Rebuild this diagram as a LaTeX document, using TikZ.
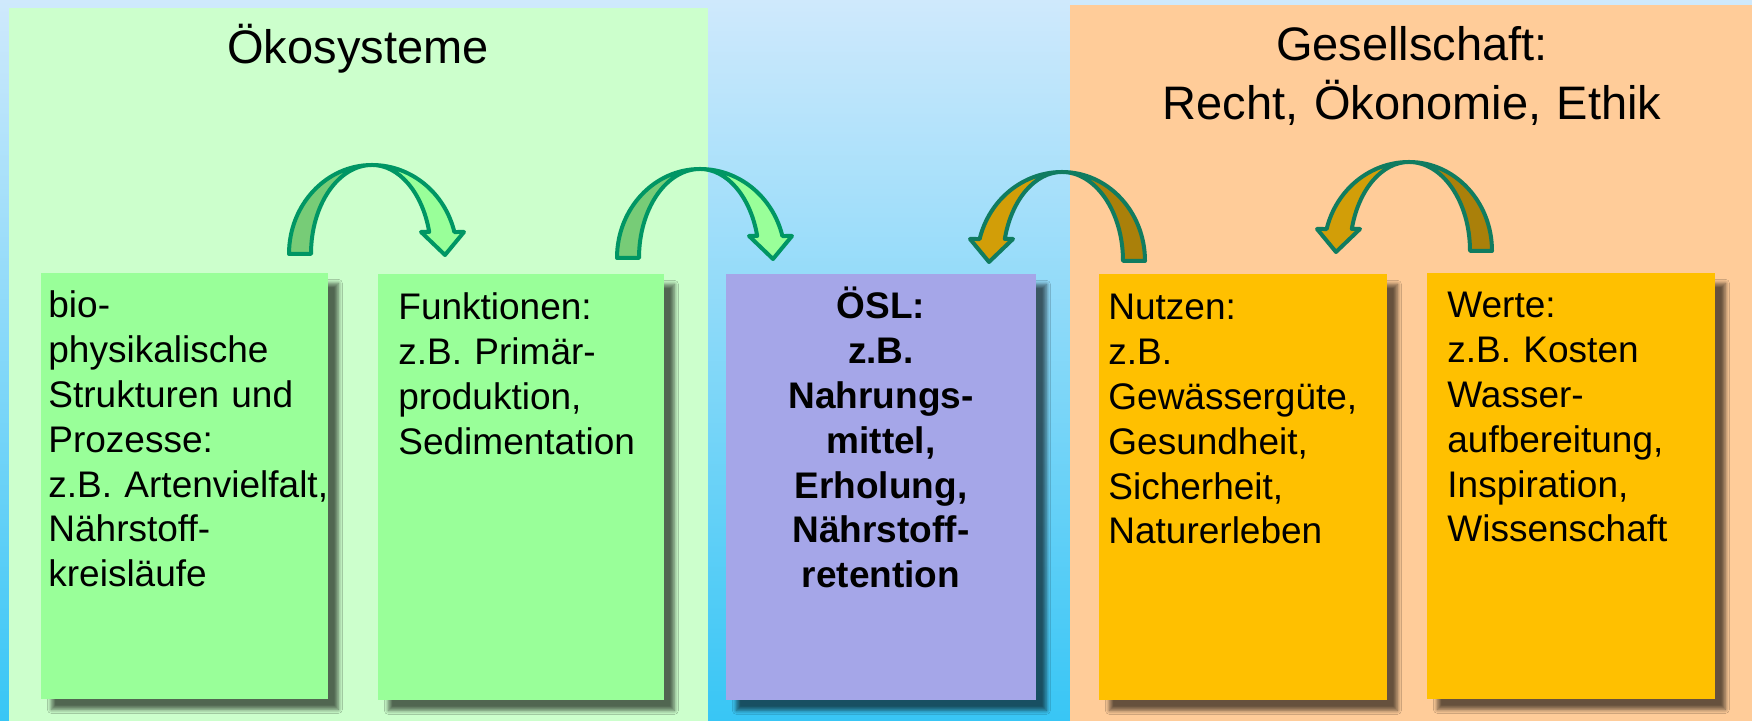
\documentclass[tikz,border=0pt]{standalone}
\usepackage{fontspec}
\setmainfont{Liberation Sans}
\usetikzlibrary{positioning,shadows.blur}

\definecolor{himmeloben}{RGB}{207,233,252}
\definecolor{himmelunten}{RGB}{56,198,245}
\definecolor{gruenflaeche}{RGB}{204,255,204}
\definecolor{orangeflaeche}{RGB}{255,204,153}
\definecolor{gruenfeld}{RGB}{153,255,153}
\definecolor{lilafeld}{RGB}{165,166,232}
\definecolor{goldfeld}{RGB}{255,192,0}
\definecolor{gruendunkel}{RGB}{119,204,119}
\definecolor{gruenrand}{RGB}{0,150,100}
\definecolor{golddunkel}{RGB}{170,128,10}
\definecolor{goldhell}{RGB}{210,158,8}
\definecolor{goldrand}{RGB}{16,124,96}

\tikzset{
  feld/.style={inner sep=0pt, minimum height=213pt, anchor=north west,
    blur shadow={shadow xshift=5pt, shadow yshift=-5pt, shadow opacity=60,
      shadow blur radius=2pt, shadow blur steps=8}},
  inhalt/.style={anchor=base west, text width=160pt, align=left, inner sep=0pt,
    font=\fontsize{18.5}{22.4}\selectfont},
  titel/.style={anchor=base, text width=320pt, align=center, inner sep=0pt,
    font=\fontsize{23.5}{29.25}\selectfont},
  pics/bogenpfeil/.style n args={3}{code={
    % hinterer Teil (Fuss)
    \filldraw[fill=#1, draw=#3, line width=2pt, line join=round]
      (-83,0) arc[start angle=180, end angle=90, x radius=83, y radius=89]
      arc[start angle=90, end angle=180, x radius=61, y radius=89] -- cycle;
    % vorderer Teil mit Spitze
    \filldraw[fill=#2, draw=#3, line width=2pt, line join=round]
      (0,89) arc[start angle=90, end angle=14.3, x radius=85, y radius=89]
      -- (92,22) -- (73,-1) -- (49,22) -- (57.2,22)
      arc[start angle=14.3, end angle=90, x radius=59, y radius=89] -- cycle;
  }}
}

\begin{document}
\begin{tikzpicture}[x=0.5pt, y=0.5pt]
\useasboundingbox (0,0) rectangle (1752,721);
\fill[top color=himmeloben, bottom color=himmelunten] (0,0) rectangle (1752,721);
\fill[gruenflaeche] (9,0) rectangle (708,713);
\fill[orangeflaeche] (1070,0) rectangle (1752,716);

\node[titel] (oeko) at (358,657) {Ökosysteme};
\node[titel] (gesell) at (1412,660) {Gesellschaft:\\Recht, Ökonomie, Ethik};

% Pfeile
\pic at (372,467) {bogenpfeil={gruendunkel}{gruenfeld}{gruenrand}};
\pic at (700,463) {bogenpfeil={gruendunkel}{gruenfeld}{gruenrand}};
\pic[xscale=-1] at (1062,460) {bogenpfeil={golddunkel}{goldhell}{goldrand}};
\pic[xscale=-1] at (1409,470) {bogenpfeil={golddunkel}{goldhell}{goldrand}};

% Felder
\node[feld, fill=gruenfeld, minimum width=143.5pt] (bio) at (41,448) {};
\node[feld, fill=gruenfeld, minimum width=143pt] (funk) at (378,447) {};
\node[feld, fill=lilafeld, minimum width=155pt] (oesl) at (726,447) {};
\node[feld, fill=goldfeld, minimum width=144pt] (nutzen) at (1099,447) {};
\node[feld, fill=goldfeld, minimum width=144pt] (werte) at (1427,448) {};

\node[inhalt] (bio-t) at (48,403) {bio-\\physikalische\\Strukturen und\\Prozesse:\\z.B. Artenvielfalt,\\Nährstoff-\\kreisläufe};
\node[inhalt] (funk-t) at (398,401) {Funktionen:\\z.B. Primär-\\produktion,\\Sedimentation};
\node[inhalt, anchor=base, text width=155pt, align=center, font=\fontsize{18.5}{22.4}\selectfont\bfseries] (oesl-t) at (881,402)
  {ÖSL:\\z.B.\\Nahrungs-\\mittel,\\Erholung,\\Nährstoff-\\retention};
\node[inhalt] (nutzen-t) at (1108,401) {Nutzen:\\z.B.\\Gewässergüte,\\Gesundheit,\\Sicherheit,\\Naturerleben};
\node[inhalt] (werte-t) at (1447,403) {Werte:\\z.B. Kosten\\Wasser-\\aufbereitung,\\Inspiration,\\Wissenschaft};
\end{tikzpicture}
\end{document}
